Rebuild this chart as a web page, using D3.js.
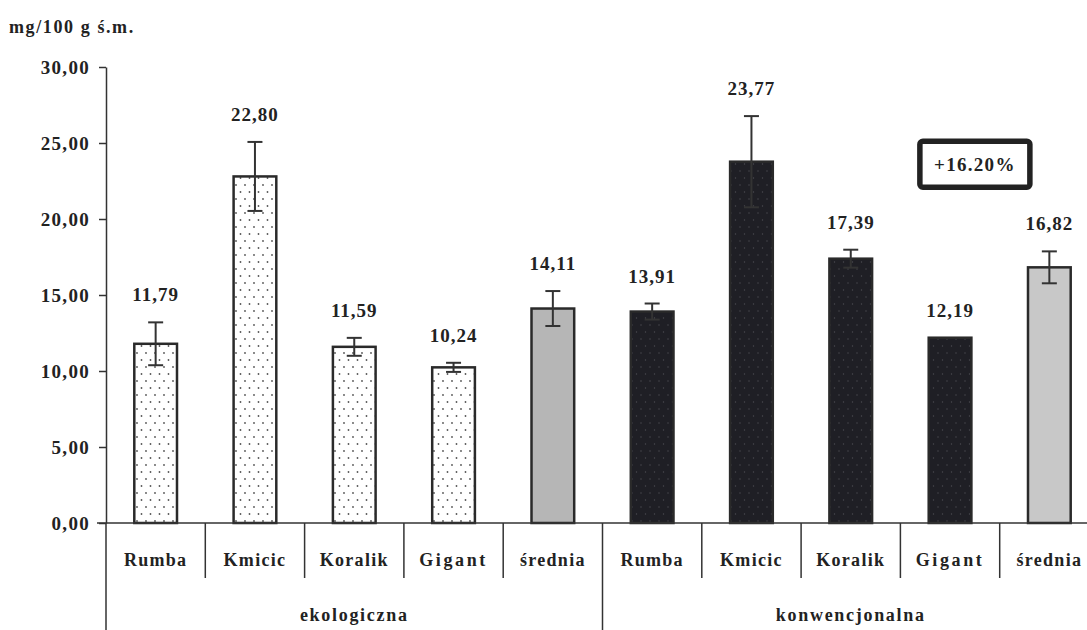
<!DOCTYPE html>
<html>
<head>
<meta charset="utf-8">
<script src="https://cdnjs.cloudflare.com/ajax/libs/d3/7.8.5/d3.min.js"></script>
<style>
  body { margin: 0; background: #fff; }
  svg text { font-family: 'Liberation Serif', 'Times New Roman', Times, serif !important; font-weight: 700; fill: #222; }
</style>
</head>
<body>
<div id="chart"></div>
<script>
// values
var categories = ["Rumba", "Kmicic", "Koralik", "Gigant", "średnia"];
var groups = ["ekologiczna", "konwencjonalna"];
var ekoValues = [11.79, 22.80, 11.59, 10.24, 14.11];
var ekoErrors = [1.41, 2.27, 0.59, 0.30, 1.15];
var konValues = [13.91, 23.77, 17.39, 12.19, 16.82];
var konErrors = [0.53, 3.00, 0.59, 0, 1.05];
var yTicks = [0, 5, 10, 15, 20, 25, 30];
var yTitle = "mg/100 g ś.m.";
var diffLabel = "+16.20%";

var W = 1087, H = 630;
var FONT = "'Liberation Serif', 'Times New Roman', Times, serif";
var svg = d3.select("#chart").append("svg").attr("width", W).attr("height", H)
  .attr("font-family", FONT);

// patterns
var defs = svg.append("defs");
var pEko = defs.append("pattern").attr("id", "dotsEko").attr("patternUnits", "userSpaceOnUse")
  .attr("width", 9).attr("height", 14);
pEko.append("rect").attr("width", 9).attr("height", 14).attr("fill", "#fff");
pEko.append("circle").attr("cx", 2).attr("cy", 3).attr("r", 0.9).attr("fill", "#555");
pEko.append("circle").attr("cx", 6.5).attr("cy", 10).attr("r", 0.9).attr("fill", "#555");
var pKon = defs.append("pattern").attr("id", "dotsKon").attr("patternUnits", "userSpaceOnUse")
  .attr("width", 9).attr("height", 14);
pKon.append("rect").attr("width", 9).attr("height", 14).attr("fill", "#1f1f25");
pKon.append("circle").attr("cx", 2).attr("cy", 3).attr("r", 0.7).attr("fill", "#4a4a50");
pKon.append("circle").attr("cx", 6.5).attr("cy", 10).attr("r", 0.7).attr("fill", "#4a4a50");

// rows
var rows = [];
groups.forEach(function(g, gi) {
  var vals = gi == 0 ? ekoValues : konValues;
  var errs = gi == 0 ? ekoErrors : konErrors;
  categories.forEach(function(c, ci) {
    rows.push({ key: g + "|" + c, group: g, cat: c, value: vals[ci], err: errs[ci], gi: gi, ci: ci });
  });
});

var x = d3.scaleBand().domain(rows.map(function(d) { return d.key; })).range([106, 1099]).padding(0);
var y = d3.scaleLinear().domain([0, 30]).range([523, 67]);
var barW = x.bandwidth() * 0.43;

function fillFor(d) {
  if (d.cat == "średnia") return d.gi == 0 ? "#b6b6b6" : "#c8c8c8";
  return d.gi == 0 ? "url(#dotsEko)" : "url(#dotsKon)";
}

// y title
svg.append("text").attr("x", 9).attr("y", 33).attr("font-size", 18).attr("letter-spacing", 1.6).text(yTitle);

// y axis
var yAxis = svg.append("g").attr("transform", "translate(106,0)")
  .call(d3.axisLeft(y).tickValues(yTicks).tickSize(7).tickSizeOuter(0).tickPadding(9)
    .tickFormat(function(d) { return d3.format(".2f")(d).replace(".", ","); }));
yAxis.attr("font-family", FONT);
yAxis.select(".domain").attr("stroke", "#333").attr("stroke-width", 1.5);
yAxis.selectAll(".tick line").attr("stroke", "#333").attr("stroke-width", 1.5);
yAxis.selectAll(".tick text").attr("font-size", 19).attr("letter-spacing", 1.3).attr("fill", "#222");

// bars
svg.selectAll("rect.bar").data(rows).enter().append("rect").attr("class", "bar")
  .attr("x", function(d) { return x(d.key) + (x.bandwidth() - barW) / 2; })
  .attr("y", function(d) { return y(d.value); })
  .attr("width", barW)
  .attr("height", function(d) { return y(0) - y(d.value); })
  .attr("fill", fillFor)
  .attr("stroke", "#2a2a2a").attr("stroke-width", 2.5);

// error bars
var eb = svg.selectAll("g.err").data(rows.filter(function(d) { return d.err > 0; })).enter().append("g")
  .attr("stroke", "#333").attr("stroke-width", 2);
eb.append("line")
  .attr("x1", function(d) { return x(d.key) + x.bandwidth() / 2; })
  .attr("x2", function(d) { return x(d.key) + x.bandwidth() / 2; })
  .attr("y1", function(d) { return y(d.value + d.err); })
  .attr("y2", function(d) { return y(d.value - d.err); });
[1, -1].forEach(function(s) {
  eb.append("line")
    .attr("x1", function(d) { return x(d.key) + x.bandwidth() / 2 - 7.5; })
    .attr("x2", function(d) { return x(d.key) + x.bandwidth() / 2 + 7.5; })
    .attr("y1", function(d) { return y(d.value + s * d.err); })
    .attr("y2", function(d) { return y(d.value + s * d.err); });
});

// value labels
svg.selectAll("text.val").data(rows).enter().append("text").attr("class", "val")
  .attr("x", function(d) { return x(d.key) + x.bandwidth() / 2; })
  .attr("y", function(d) { return y(d.value + d.err) - 21; })
  .attr("text-anchor", "middle").attr("font-size", 19).attr("letter-spacing", 1)
  .text(function(d) { return d3.format(".2f")(d.value).replace(".", ","); });

// baseline and lower frame
svg.append("line").attr("x1", 97).attr("x2", W).attr("y1", y(0)).attr("y2", y(0))
  .attr("stroke", "#333").attr("stroke-width", 1.5);
svg.append("line").attr("x1", 106).attr("x2", 106).attr("y1", y(0)).attr("y2", H)
  .attr("stroke", "#333").attr("stroke-width", 1.5);
svg.selectAll("line.sep").data(rows.filter(function(d) { return d.ci > 0 || d.gi > 0; })).enter()
  .append("line").attr("class", "sep")
  .attr("x1", function(d) { return x(d.key); }).attr("x2", function(d) { return x(d.key); })
  .attr("y1", y(0))
  .attr("y2", function(d) { return d.ci == 0 ? H : 578; })
  .attr("stroke", "#333").attr("stroke-width", 1.5);

// category labels
svg.selectAll("text.cat").data(rows).enter().append("text").attr("class", "cat")
  .attr("x", function(d) { return x(d.key) + x.bandwidth() / 2; })
  .attr("y", 566).attr("text-anchor", "middle").attr("font-size", 18)
  .attr("letter-spacing", function(d) { return d.cat == "Gigant" ? 2.6 : 1.3; })
  .text(function(d) { return d.cat; });

// group labels
svg.selectAll("text.grp").data(groups).enter().append("text").attr("class", "grp")
  .attr("x", function(g) {
    var first = x(g + "|" + categories[0]);
    var last = x(g + "|" + categories[categories.length - 1]) + x.bandwidth();
    return (first + last) / 2;
  })
  .attr("y", 621).attr("text-anchor", "middle").attr("font-size", 18).attr("letter-spacing", 1.7)
  .text(function(g) { return g; });

// difference box
var bx = x("konwencjonalna|Gigant") + x.bandwidth() * 0.75;
var by = y(23.6);
svg.append("rect").attr("x", bx - 55).attr("y", by - 23).attr("width", 110).attr("height", 46)
  .attr("rx", 3).attr("fill", "#fff").attr("stroke", "#222").attr("stroke-width", 5.5);
svg.append("text").attr("x", bx).attr("y", by + 6.5).attr("text-anchor", "middle")
  .attr("font-size", 19).attr("letter-spacing", 1.3).text(diffLabel);
</script>
</body>
</html>
